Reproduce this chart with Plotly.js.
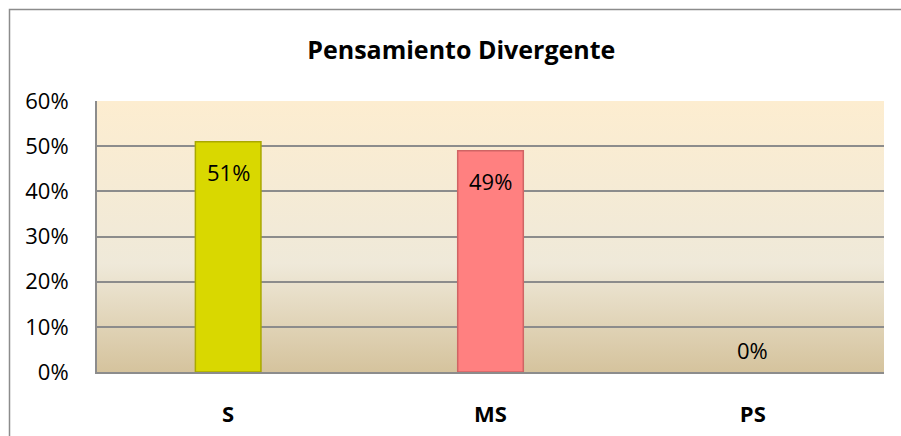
<!DOCTYPE html>
<html><head><meta charset="utf-8">
<script src="https://cdn.plot.ly/plotly-3.0.1.min.js"></script>
<style>html,body{margin:0;padding:0;background:#fff;}#chart{width:901px;height:436px;}</style>
</head><body><div id="chart"></div>
<script>
const categories = ['S', 'MS', 'PS'];
const values = [0.51, 0.49, 0.00];
const valueLabels = ['51%', '49%', '0%'];
const barColors = ['#D9D800', '#FF8080', '#D9D800'];
const barLines = ['#A9A800', '#D06464', '#A9A800'];
const yTicks = [0, 0.1, 0.2, 0.3, 0.4, 0.5, 0.6];
const titleText = 'Pensamiento Divergente';

const font = "Open Sans, Noto Sans, Liberation Sans, sans-serif";
const grad = '<svg xmlns="http://www.w3.org/2000/svg" width="100" height="100" preserveAspectRatio="none"><defs><linearGradient id="g" x1="0" y1="0" x2="0" y2="1"><stop offset="0" stop-color="#FDEDD0"/><stop offset="0.6" stop-color="#EFE9D9"/><stop offset="1" stop-color="#D5C39D"/></linearGradient></defs><rect width="100" height="100" fill="url(#g)"/></svg>';

const annotations = categories.map((c, i) => ({
  x: c, y: values[i], xref: 'x', yref: 'y',
  text: valueLabels[i], showarrow: false,
  yshift: values[i] > 0 ? -30 : 22,
  font: {family: font, size: 22, color: '#000'}
}));

Plotly.newPlot('chart', [{
  type: 'bar', x: categories, y: values, width: 0.25,
  marker: {color: barColors, line: {color: barLines, width: values.map(v => v > 0 ? 1.5 : 0)}},
  hoverinfo: 'none'
}], {
  width: 901, height: 436,
  margin: {l: 97, r: 17, t: 101, b: 64},
  paper_bgcolor: '#fff', plot_bgcolor: 'rgba(0,0,0,0)',
  showlegend: false,
  title: {text: '<b>' + titleText + '</b>', x: 0.512, xanchor: 'center', y: 0.885, yanchor: 'middle',
    font: {family: font, size: 25, color: '#000'}},
  xaxis: {type: 'category', showgrid: false, showline: true, linecolor: '#8c8c8c', linewidth: 2,
    ticks: '', ticklabelstandoff: 22,
    tickfont: {family: font, size: 22, color: '#000', weight: 'bold'}},
  yaxis: {range: [0, 0.6], tickvals: yTicks, tickformat: '.0%', showgrid: true,
    gridcolor: '#8c8c8c', gridwidth: 2, showline: true, linecolor: '#8c8c8c', linewidth: 2,
    zeroline: false, ticks: '', ticklabelstandoff: 22,
    tickfont: {family: font, size: 22, color: '#000'}},
  images: [{source: 'data:image/svg+xml;utf8,' + encodeURIComponent(grad),
    xref: 'paper', yref: 'paper', x: 0, y: 1, sizex: 1, sizey: 1,
    sizing: 'stretch', layer: 'below', xanchor: 'left', yanchor: 'top'}],
  shapes: [{type: 'rect', xref: 'paper', yref: 'paper',
    x0: (9.5 - 97) / 787, x1: 1.2, y0: -0.5, y1: (372 - 9.5) / 271,
    line: {color: '#8c8c8c', width: 1.5}, fillcolor: 'rgba(0,0,0,0)', layer: 'below'}],
  annotations: annotations
}, {staticPlot: true});
</script></body></html>
